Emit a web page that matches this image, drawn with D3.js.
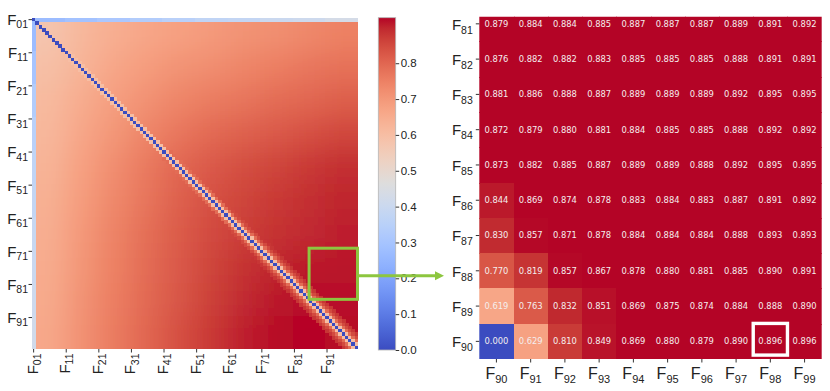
<!DOCTYPE html>
<html lang="en">
<head>
  <meta charset="UTF-8">
  <title>Distance heatmap</title>
  <script src="https://cdn.jsdelivr.net/npm/d3@7/dist/d3.min.js"></script>
  <style>
    body { margin: 0; background: #fff; }
    svg { font-family: "DejaVu Sans", sans-serif; display: block; }
    .tick line { stroke: #333; }
  </style>
</head>
<body>
  <svg id="chart" width="830" height="391"></svg>
  <script>
  // ---- data ----
  // big matrix: estimated level of each 10x10 block (row band x col band)
  const bodyBands = [
    [0.575, 0.62, 0.645, 0.665, 0.68, 0.695, 0.71, 0.72, 0.735, 0.75],
    [0.595, 0.63, 0.665, 0.69, 0.71, 0.725, 0.74, 0.755, 0.77, 0.78],
    [0.61, 0.65, 0.685, 0.715, 0.74, 0.76, 0.775, 0.79, 0.80, 0.815],
    [0.62, 0.665, 0.705, 0.74, 0.77, 0.795, 0.81, 0.825, 0.84, 0.855],
    [0.63, 0.68, 0.725, 0.765, 0.80, 0.825, 0.845, 0.86, 0.875, 0.89],
    [0.64, 0.69, 0.735, 0.775, 0.81, 0.84, 0.86, 0.875, 0.89, 0.90],
    [0.645, 0.70, 0.745, 0.785, 0.82, 0.85, 0.87, 0.885, 0.895, 0.905],
    [0.65, 0.705, 0.75, 0.79, 0.825, 0.86, 0.885, 0.90, 0.91, 0.915],
    [0.655, 0.71, 0.755, 0.795, 0.83, 0.865, 0.895, 0.912, 0.918, 0.918],
    [0.66, 0.715, 0.76, 0.80, 0.84, 0.875, 0.905, 0.92, 0.925, 0.92]
  ]
  // first row / first column (light blue strips), per band of 10
  const topRowBands = [0.27, 0.29, 0.31, 0.33, 0.35, 0.37, 0.38, 0.40, 0.41, 0.43]
  const leftColBands = [0.27, 0.30, 0.33, 0.35, 0.37, 0.38, 0.39, 0.40, 0.41, 0.42]
  // values right next to the diagonal (offset 0,1,2,3,4)
  const haloByOffset = [0, 0.6, 0.79, 0.85, 0.88]
  const bigTicks = [0, 10, 20, 30, 40, 50, 60, 70, 80, 90]
  const bigTickLabels = ['01', '11', '21', '31', '41', '51', '61', '71', '81', '91']
  const bigMax = 0.927

  // zoomed panel
  const zoomRows = ['81', '82', '83', '84', '85', '86', '87', '88', '89', '90']
  const zoomCols = ['90', '91', '92', '93', '94', '95', '96', '97', '98', '99']
  const zoomValues = [
    [0.879, 0.884, 0.884, 0.885, 0.887, 0.887, 0.887, 0.889, 0.891, 0.892],
    [0.876, 0.882, 0.882, 0.883, 0.885, 0.885, 0.885, 0.888, 0.891, 0.891],
    [0.881, 0.886, 0.888, 0.887, 0.889, 0.889, 0.889, 0.892, 0.895, 0.895],
    [0.872, 0.879, 0.880, 0.881, 0.884, 0.885, 0.885, 0.888, 0.892, 0.892],
    [0.873, 0.882, 0.885, 0.887, 0.889, 0.889, 0.888, 0.892, 0.895, 0.895],
    [0.844, 0.869, 0.874, 0.878, 0.883, 0.884, 0.883, 0.887, 0.891, 0.892],
    [0.830, 0.857, 0.871, 0.878, 0.884, 0.884, 0.884, 0.888, 0.893, 0.893],
    [0.770, 0.819, 0.857, 0.867, 0.878, 0.880, 0.881, 0.885, 0.890, 0.891],
    [0.619, 0.763, 0.832, 0.851, 0.869, 0.875, 0.874, 0.884, 0.888, 0.890],
    [0.000, 0.629, 0.810, 0.849, 0.869, 0.880, 0.879, 0.890, 0.896, 0.896]
  ]
  const zoomMax = 0.86
  const highlight = { row: '90', col: '98' }
  const colorbarTicks = [0, 0.1, 0.2, 0.3, 0.4, 0.5, 0.6, 0.7, 0.8]

  // coolwarm colormap stops (0 -> 1)
  const coolwarm = ['#3b4cc0','#445acc','#4d68d7','#5775e1','#6282ea','#6c8ef1','#779af7','#82a5fb',
    '#8db0fe','#98b9ff','#a3c2ff','#aec9fd','#b8d0f9','#c2d5f4','#ccd9ee','#d5dbe6','#dddddd',
    '#e5d8d1','#ecd3c5','#f1ccb9','#f5c4ad','#f7bba0','#f7b194','#f7a687','#f49a7b','#f18d6f',
    '#ec7f63','#e57058','#de604d','#d55042','#cb3e38','#c0282f','#b40426']

  const svg = d3.select('#chart')
  svg.append('rect').attr('width', 830).attr('height', 391).attr('fill', '#fff')
  const defs = svg.append('defs')

  const makeColor = (vmax) => d3.scaleLinear()
    .domain(coolwarm.map((c, k) => k / (coolwarm.length - 1) * vmax))
    .range(coolwarm).clamp(true)
  const bigColor = makeColor(bigMax)
  const zoomColor = makeColor(zoomMax)

  function subLabel (text, main, sub, fs, sfs, sdy) {
    text.text(null)
    text.append('tspan').attr('font-size', fs).text(main)
    text.append('tspan').attr('font-size', sfs).attr('dy', sdy).text(sub)
  }

  // ---- big heatmap ----
  const N = 100
  const xBig = d3.scaleBand().domain(d3.range(N)).range([32, 358])
  const yBig = d3.scaleBand().domain(d3.range(N)).range([18, 349])

  const cells = []
  for (let i = 0; i < N; i++) {
    for (let j = 0; j < N; j++) {
      const body = bodyBands[Math.floor(i / 10)][Math.floor(j / 10)]
      let v = body
      const off = Math.abs(i - j)
      if (i === j) v = 0
      else if (i === 0) v = topRowBands[Math.floor(j / 10)]
      else if (j === 0) v = leftColBands[Math.floor(i / 10)]
      else if (off < haloByOffset.length) v = Math.min(body, haloByOffset[off])
      cells.push({ i, j, body, v })
    }
  }

  defs.append('clipPath').attr('id', 'bigClip').append('rect')
    .attr('x', 32).attr('y', 18).attr('width', 326).attr('height', 331)
  const blur = defs.append('filter').attr('id', 'soft')
    .attr('filterUnits', 'userSpaceOnUse')
    .attr('x', 0).attr('y', 0).attr('width', 400).attr('height', 391)
  blur.append('feGaussianBlur').attr('stdDeviation', 13)

  const pad = 40
  const bigG = svg.append('g').attr('clip-path', 'url(#bigClip)')
  bigG.append('g').attr('filter', 'url(#soft)')
    .selectAll('rect').data(cells).join('rect')
    .attr('shape-rendering', 'crispEdges')
    .attr('x', d => xBig(d.j) - (d.j === 0 ? pad : 0))
    .attr('y', d => yBig(d.i) - (d.i === 0 ? pad : 0))
    .attr('width', d => xBig.bandwidth() + 1 + (d.j === 0 || d.j === N - 1 ? pad : 0))
    .attr('height', d => yBig.bandwidth() + 1 + (d.i === 0 || d.i === N - 1 ? pad : 0))
    .attr('fill', d => bigColor(d.body))

  bigG.append('g').selectAll('rect').data(cells.filter(d => d.v !== d.body)).join('rect')
    .attr('shape-rendering', 'crispEdges')
    .attr('x', d => xBig(d.j))
    .attr('y', d => yBig(d.i))
    .attr('width', xBig.bandwidth() + 0.6)
    .attr('height', yBig.bandwidth() + 0.6)
    .attr('fill', d => bigColor(d.v))

  const yAxisBig = svg.append('g').attr('transform', 'translate(32,0)')
    .call(d3.axisLeft(yBig).tickValues(bigTicks).tickSize(3.5).tickPadding(0.5)
      .tickFormat((d, k) => bigTickLabels[k]))
  yAxisBig.select('.domain').remove()
  yAxisBig.selectAll('.tick text').attr('dy', 5.4).attr('fill', '#222')
    .each(function (d, k) { subLabel(d3.select(this), 'F', bigTickLabels[k], 15, 10.5, 3.3) })

  const xAxisBig = svg.append('g').attr('transform', 'translate(0,349)')
    .call(d3.axisBottom(xBig).tickValues(bigTicks).tickSize(3.5)
      .tickFormat((d, k) => bigTickLabels[k]))
  xAxisBig.select('.domain').remove()
  xAxisBig.selectAll('.tick text')
    .attr('y', 3.9).attr('dy', null).attr('x', 0)
    .attr('transform', 'translate(0,4.5) rotate(-90)')
    .attr('text-anchor', 'end').attr('fill', '#222')
    .each(function (d, k) { subLabel(d3.select(this), 'F', bigTickLabels[k], 15, 10.5, 3.3) })

  // ---- colorbar ----
  const cbY = d3.scaleLinear().domain([0, bigMax]).range([350, 17.7])
  const grad = defs.append('linearGradient').attr('id', 'cbGrad')
    .attr('x1', 0).attr('y1', 1).attr('x2', 0).attr('y2', 0)
  grad.selectAll('stop').data(coolwarm).join('stop')
    .attr('offset', (c, k) => k / (coolwarm.length - 1))
    .attr('stop-color', c => c)
  svg.append('rect')
    .attr('x', 378.3).attr('y', cbY(bigMax)).attr('width', 17.4)
    .attr('height', cbY(0) - cbY(bigMax))
    .attr('fill', 'url(#cbGrad)').attr('stroke', '#b5b5b5').attr('stroke-width', 0.8)
  const cbAxis = svg.append('g').attr('transform', 'translate(395.7,0)')
    .call(d3.axisRight(cbY).tickValues(colorbarTicks).tickSize(3.5).tickPadding(1.5)
      .tickFormat(d3.format('.1f')))
  cbAxis.select('.domain').remove()
  cbAxis.selectAll('.tick text').attr('font-size', 11.5).attr('fill', '#222')

  // ---- zoom box + arrow ----
  const green = '#8dc63f'
  svg.append('rect')
    .attr('x', xBig(85)).attr('y', yBig(70) - 1.5)
    .attr('width', xBig(99) + xBig.bandwidth() - xBig(85) - 0.5)
    .attr('height', yBig(85) - yBig(70) + 1.5)
    .attr('fill', 'none').attr('stroke', green).attr('stroke-width', 3)
  const arrowY = yBig(77) + 3
  svg.append('line')
    .attr('x1', 358).attr('x2', 437).attr('y1', arrowY).attr('y2', arrowY)
    .attr('stroke', green).attr('stroke-width', 3)
  svg.append('path')
    .attr('d', `M435,${arrowY - 4.5}L444,${arrowY}L435,${arrowY + 4.5}Z`)
    .attr('fill', green)

  // ---- zoomed heatmap ----
  const xZ = d3.scaleBand().domain(zoomCols).range([479.3, 821.7])
  const yZ = d3.scaleBand().domain(zoomRows).range([6.2, 359])
  defs.append('clipPath').attr('id', 'zClip').append('rect')
    .attr('x', 479.3).attr('y', 16.7).attr('width', 342.4).attr('height', 342.3)

  const zCells = []
  zoomValues.forEach((row, r) => row.forEach((v, c) => {
    zCells.push({ row: zoomRows[r], col: zoomCols[c], v })
  }))
  const zG = svg.append('g').attr('clip-path', 'url(#zClip)')
  zG.selectAll('rect').data(zCells).join('rect')
    .attr('shape-rendering', 'crispEdges')
    .attr('x', d => xZ(d.col)).attr('y', d => yZ(d.row))
    .attr('width', d => xZ.bandwidth() + (d.col === '99' ? 0 : 1))
    .attr('height', d => yZ.bandwidth() + (d.row === '90' ? 0 : 1))
    .attr('fill', d => zoomColor(d.v))
  zG.selectAll('text').data(zCells).join('text')
    .attr('x', d => xZ(d.col) + xZ.bandwidth() / 2)
    .attr('y', d => yZ(d.row) + yZ.bandwidth() / 2)
    .attr('dy', '0.35em')
    .attr('text-anchor', 'middle')
    .attr('font-size', 8.4)
    .attr('fill', '#f4eeee')
    .text(d => d3.format('.3f')(d.v))

  svg.append('rect')
    .attr('x', xZ(highlight.col)).attr('y', yZ(highlight.row) - 0.3)
    .attr('width', xZ.bandwidth()).attr('height', yZ.bandwidth() - 3.6)
    .attr('fill', 'none').attr('stroke', '#fff').attr('stroke-width', 3.4)

  const yAxisZ = svg.append('g').attr('transform', 'translate(479.3,0)')
    .call(d3.axisLeft(yZ).tickSize(3.5).tickPadding(3))
  yAxisZ.select('.domain').remove()
  yAxisZ.selectAll('.tick text').attr('dy', 5.7).attr('fill', '#222')
    .each(function (d) { subLabel(d3.select(this), 'F', d, 15, 10.5, 4) })

  const xAxisZ = svg.append('g').attr('transform', 'translate(0,359)')
    .call(d3.axisBottom(xZ).tickSize(3.5))
  xAxisZ.select('.domain').remove()
  xAxisZ.selectAll('.tick text').attr('y', 20.3).attr('dy', null).attr('fill', '#222')
    .each(function (d) { subLabel(d3.select(this), 'F', d, 16, 11, 3.5) })
  </script>
</body>
</html>
